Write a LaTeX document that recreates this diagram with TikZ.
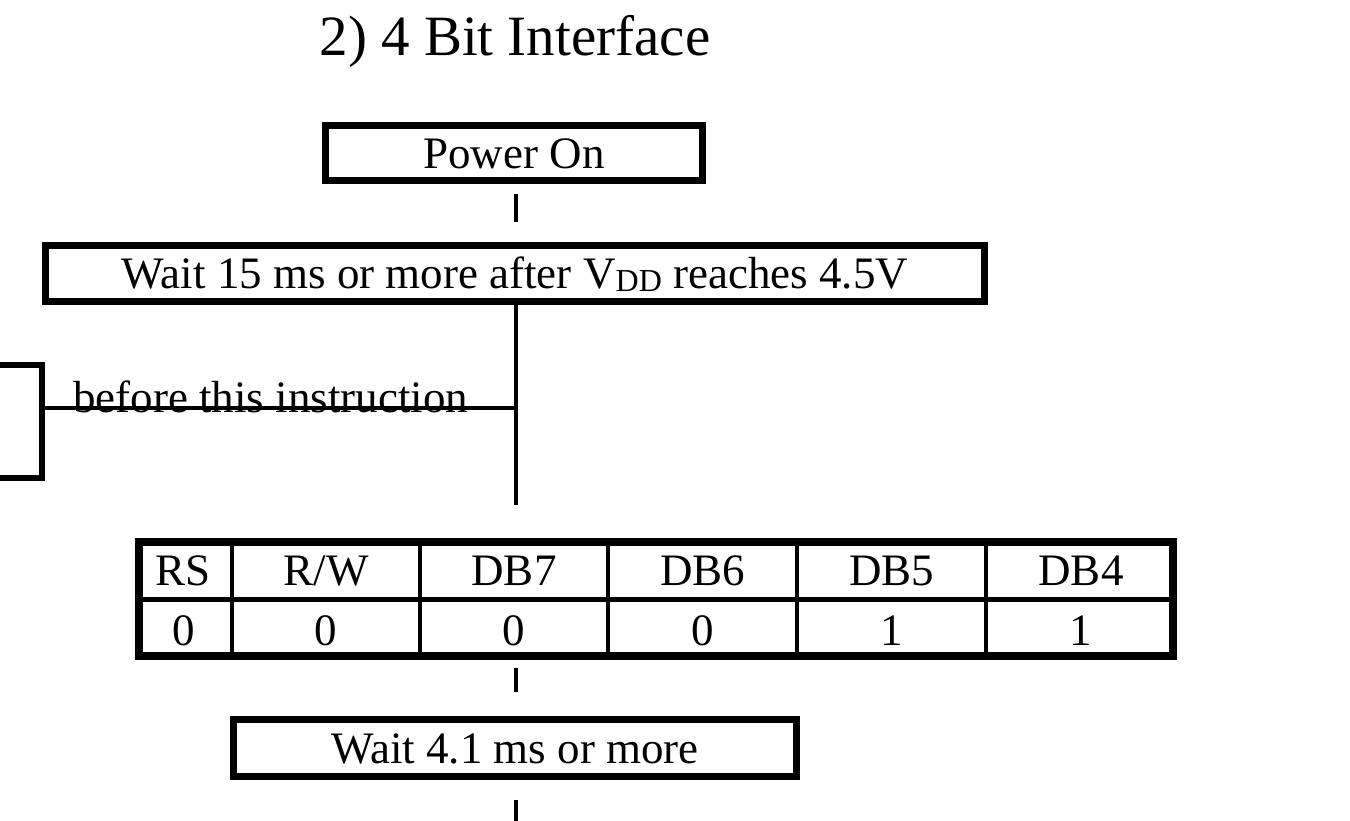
\documentclass[tikz,border=0pt]{standalone}
\usepackage{fontspec}
\setmainfont{Liberation Serif}
\newcommand{\mysub}[1]{\raisebox{-3pt}{\fontsize{32}{32}\selectfont #1}}
\begin{document}
\begin{tikzpicture}[x=1pt,y=-1pt,
  box/.style={draw=black,line width=7pt,inner sep=0pt,text height=30pt,text depth=0pt,
    font=\fontsize{45}{54}\selectfont},
  cell/.style={inner sep=0pt,text height=30pt,text depth=0pt,font=\fontsize{45}{54}\selectfont},
  conn/.style={line width=4pt},
  tblout/.style={draw=black,line width=8.5pt,inner sep=0pt},
  tblin/.style={line width=3.5pt},
  tblrow/.style={line width=5pt}]
\useasboundingbox (0,0) rectangle (1350,820);
\coordinate (sp) at (516,0);
% title
\node[anchor=base,inner sep=0pt,font=\fontsize{57}{66}\selectfont] (title) at (515,55) {2) 4 Bit Interface};
% boxes
\node[box,minimum width=377pt,minimum height=55pt] (pwr) at (514,153) {Power On};
\node[box,minimum width=939pt,minimum height=56pt] (w15) at (515,273.5) {Wait 15 ms or more after V\mysub{DD} reaches 4.5V};
\node[tblout,minimum width=1034pt,minimum height=114pt] (tbl) at (656,599) {};
\node[box,minimum width=563pt,minimum height=57pt] (w41) at (515,748) {Wait 4.1 ms or more};
% table internals
\coordinate (rowmid) at (0,599);
\draw[tblrow] (tbl.west |- rowmid) -- (tbl.east |- rowmid);
\foreach \x in {232,420,608,797,986}{
  \draw[tblin] (\x,{599-57}) -- (\x,{599+57});
}
\foreach \n/\x/\a/\b in {rs/183.5/RS/0,rw/326/{R/W}/0,d7/514/DB7/0,d6/702.5/DB6/0,d5/891.5/DB5/1,d4/1081/DB4/1}{
  \node[cell] (h\n) at (\x,570.5) {\a};
  \node[cell] (v\n) at (\x,630.5) {\b};
}
% connectors
\draw[conn,shorten <=10pt,shorten >=20pt] (pwr.south -| sp) -- (w15.north -| sp);
\draw[conn,shorten >=33pt] (w15.south -| sp) -- (tbl.north -| sp);
\draw[conn,shorten <=8pt,shorten >=24pt] (tbl.south -| sp) -- (w41.north -| sp);
\coordinate (fin) at (516,822);
\draw[conn,shorten <=20pt] (w41.south -| sp) -- (fin);
% bracket
\draw[line width=6pt] (0,365) -- (42,365) -- (42,478) -- (0,478);
\coordinate (brk) at (42,408);
\node[anchor=base west,inner sep=0pt,font=\fontsize{45}{54}\selectfont] (bti) at (73,412) {before this instruction};
\draw[conn] (brk) -- (brk -| sp);
\end{tikzpicture}
\end{document}
